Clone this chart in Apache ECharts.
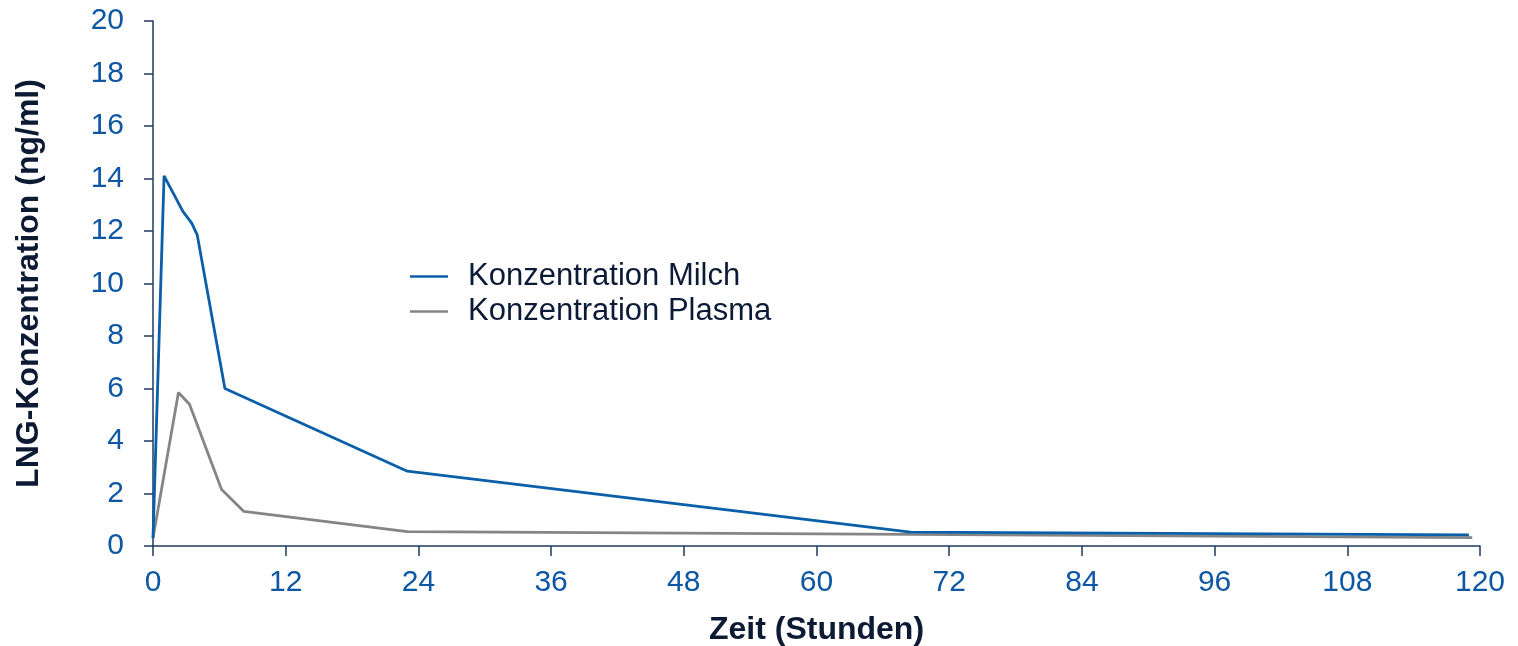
<!DOCTYPE html>
<html><head><meta charset="utf-8">
<script src="https://cdn.jsdelivr.net/npm/echarts@6/dist/echarts.min.js"></script>
<style>html,body{margin:0;padding:0;background:#fff}#c{width:1518px;height:646px}</style>
</head><body><div id="c"></div>
<script>
const milchTime = [0, 1, 2.7, 3.5, 4, 6.5, 23, 68.5, 119];
const milchConc = [0.3, 14.1, 12.75, 12.3, 11.85, 6.0, 2.85, 0.53, 0.42];
const plasmaTime = [0, 2.3, 3.3, 6.2, 8.2, 23, 68.5, 119.3];
const plasmaConc = [0.3, 5.85, 5.4, 2.15, 1.32, 0.55, 0.44, 0.32];
const seriesNames = ['Konzentration Milch', 'Konzentration Plasma'];
const xTitle = 'Zeit (Stunden)';
const yTitle = 'LNG-Konzentration (ng/ml)';

const font = 'Liberation Sans, Arial, sans-serif';
const axisColor = '#1f3a60';
const labelColor = '#0d57a4';
const titleColor = '#0c1a33';
const chart = echarts.init(document.getElementById('c'), null, {renderer: 'canvas'});
const pairs = (t, v) => t.map((x, i) => [x, v[i]]);
chart.setOption({
  animation: false,
  grid: {left: 153, right: 38, top: 21, bottom: 100, containLabel: false, outerBoundsMode: 'none'},
  legend: {
    orient: 'vertical', left: 405, top: 256, itemGap: 4,
    icon: 'rect', itemWidth: 38, itemHeight: 2.5,
    textStyle: {fontFamily: font, fontSize: 31, color: '#0b1a36', padding: [0, 0, 0, 15]},
    data: seriesNames
  },
  xAxis: {
    type: 'value', min: 0, max: 120, interval: 12,
    name: xTitle, nameLocation: 'middle', nameGap: 68,
    nameTextStyle: {fontFamily: font, fontSize: 32, fontWeight: 'bold', color: titleColor},
    axisLine: {show: true, lineStyle: {color: axisColor, width: 1.5}},
    axisTick: {show: true, length: 10, lineStyle: {color: axisColor, width: 1.5}},
    axisLabel: {fontFamily: font, fontSize: 30, color: labelColor, margin: 22},
    splitLine: {show: false}
  },
  yAxis: {
    type: 'value', min: 0, max: 20, interval: 2,
    name: yTitle, nameLocation: 'middle', nameGap: 108, nameRotate: 90,
    nameTextStyle: {fontFamily: font, fontSize: 32, fontWeight: 'bold', color: titleColor},
    axisLine: {show: true, lineStyle: {color: axisColor, width: 1.5}},
    axisTick: {show: true, length: 9, lineStyle: {color: axisColor, width: 1.5}},
    axisLabel: {fontFamily: font, fontSize: 30, color: labelColor, margin: 29},
    splitLine: {show: false}
  },
  series: [
    {name: seriesNames[0], type: 'line', data: pairs(milchTime, milchConc), showSymbol: false, symbol: 'none',
     lineStyle: {color: '#0a5fa8', width: 2.8}, itemStyle: {color: '#0a5fa8'}, z: 3},
    {name: seriesNames[1], type: 'line', data: pairs(plasmaTime, plasmaConc), showSymbol: false, symbol: 'none',
     lineStyle: {color: '#858585', width: 2.8}, itemStyle: {color: '#858585'}, z: 2}
  ]
});
</script></body></html>
